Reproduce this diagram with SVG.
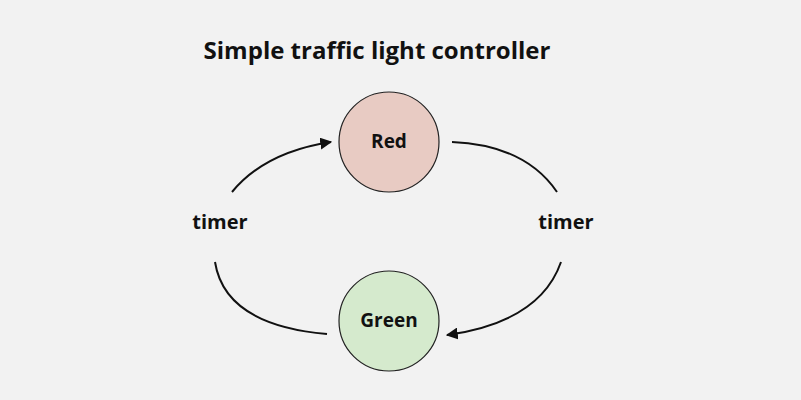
<svg xmlns="http://www.w3.org/2000/svg" width="801" height="400" viewBox="0 0 801 400">
<style>
text{font-family:"Open Sans","Noto Sans",sans-serif;font-weight:bold;fill:#111;text-anchor:middle}
.c{stroke:#222;stroke-width:1.2}
.e{fill:none;stroke:#111;stroke-width:2}
</style>
<defs><marker id="a" viewBox="0 0 10 10" refX="9" refY="5" markerWidth="6" markerHeight="6" orient="auto"><path d="M0,0L10,5L0,10z" fill="#111"/></marker></defs>
<rect width="801" height="400" fill="#f2f2f2"/>
<text x="377" y="59" font-size="24">Simple traffic light controller</text>
<g id="red"><circle class="c" cx="389" cy="142" r="50" fill="#e8cbc3"/><text x="389" y="148" font-size="19">Red</text></g>
<g id="green"><circle class="c" cx="389" cy="321" r="50" fill="#d5eacd"/><text x="389" y="327" font-size="19">Green</text></g>
<g id="edges">
<path class="e" d="M232,192 Q265,152 331,142" marker-end="url(#a)"/>
<path class="e" d="M215,262 Q225,325 327,334"/>
<path class="e" d="M452,142 Q525,145 557,192"/>
<path class="e" d="M561,262 Q540,322 447,335" marker-end="url(#a)"/>
</g>
<g id="labels"><text x="220" y="229" font-size="20">timer</text><text x="566" y="229" font-size="20">timer</text></g>
</svg>
